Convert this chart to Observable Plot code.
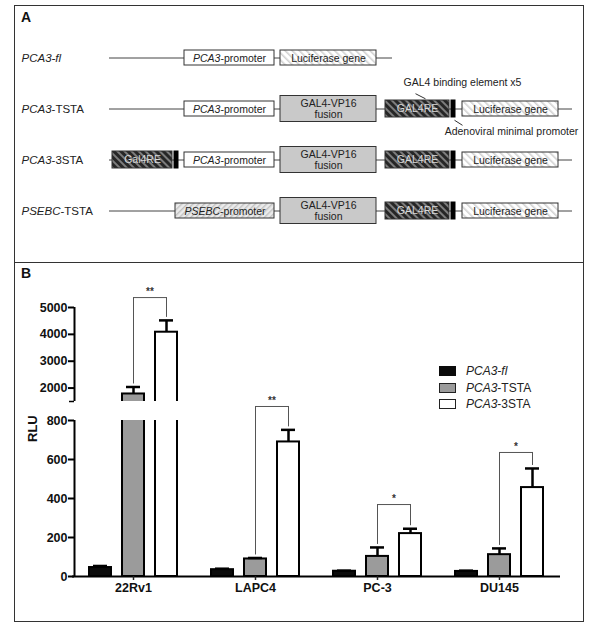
<!DOCTYPE html>
<html><head><meta charset="utf-8">
<script src="https://cdn.jsdelivr.net/npm/d3@7"></script>
<script src="https://cdn.jsdelivr.net/npm/@observablehq/plot@0.6"></script>
<style>
html,body{margin:0;padding:0;background:#fff;}
#fig{position:relative;width:600px;height:624px;font-family:"Liberation Sans",Arial,sans-serif;color:#222;overflow:hidden;}
#fig > svg{position:absolute;left:0;}
.frame{position:absolute;box-sizing:border-box;border:1.5px solid #333;}
.letter{position:absolute;font-weight:bold;font-size:14px;line-height:14px;color:#111;}
#legend{position:absolute;left:439px;top:363px;font-size:12px;color:#222;}
.lg{height:16.6px;display:flex;align-items:center;}
.sw{width:17px;height:10px;box-sizing:border-box;margin-right:10px;}
</style></head>
<body>
<div id="fig">
<svg width="0" height="0" style="position:absolute;left:0;top:0"><defs>
  <pattern id="hatchLuc" patternUnits="userSpaceOnUse" width="5" height="5" patternTransform="rotate(-45)">
    <rect width="5" height="5" fill="#ffffff"/><rect width="1.6" height="5" fill="#d2d2d2"/>
  </pattern>
  <pattern id="hatchRE" patternUnits="userSpaceOnUse" width="5" height="5" patternTransform="rotate(-45)">
    <rect width="5" height="5" fill="#262626"/><rect width="2" height="5" fill="#7d7d7d"/>
  </pattern>
  <pattern id="hatchPSE" patternUnits="userSpaceOnUse" width="4" height="4" patternTransform="rotate(45)">
    <rect width="4" height="4" fill="#ebebeb"/><rect width="1.4" height="4" fill="#c2c2c2"/>
  </pattern>
</defs></svg>
<div class="frame" style="left:14px;top:5px;width:570px;height:617px;"></div>
<div class="frame" style="left:14px;top:262px;width:570px;height:0;border-width:1.5px 0 0 0;"></div>
<div class="letter" style="left:21px;top:10px;">A</div>
<div class="letter" style="left:21px;top:266px;">B</div>
<div id="legend"></div>
</div>
<script>
// ---------------- Panel A: construct schematic ----------------
const constructs = ["PCA3-fl", "PCA3-TSTA", "PCA3-3STA", "PSEBC-TSTA"];
const backboneStart = [109, 109, 109, 109];
const backboneEnd = [392, 572, 572, 572];

const elemRow   = [0, 0,   1, 1, 1, 1, 1,   2, 2, 2, 2, 2, 2, 2,   3, 3, 3, 3, 3];
const elemType  = ["promoter", "luciferase",
                   "promoter", "gal4vp16", "gal4re", "minp", "luciferase",
                   "gal4re", "minp", "promoter", "gal4vp16", "gal4re", "minp", "luciferase",
                   "psebc", "gal4vp16", "gal4re", "minp", "luciferase"];
const elemStart = [184, 280,   184, 280, 385, 451, 462,   112, 174, 184, 280, 385, 451, 462,   175, 280, 385, 451, 462];
const elemEnd   = [274, 376,   274, 376, 449, 455, 558,   172, 178, 274, 376, 449, 455, 558,   274, 376, 449, 455, 558];
const elemLabel = ["PCA3-promoter", "Luciferase gene",
                   "PCA3-promoter", "GAL4-VP16\nfusion", "GAL4RE", "", "Luciferase gene",
                   "Gal4RE", "", "PCA3-promoter", "GAL4-VP16\nfusion", "GAL4RE", "", "Luciferase gene",
                   "PSEBC-promoter", "GAL4-VP16\nfusion", "GAL4RE", "", "Luciferase gene"];

const annoText = ["GAL4 binding element x5", "Adenoviral minimal promoter"];
const annoX = [462, 511];
const annoY = [0.48, 1.44];
const leaderX1 = [415, 454];
const leaderY1 = [0.70, 1.22];
const leaderX2 = [425, 462];
const leaderY2 = [0.80, 1.32];

const italicTerms = ["PCA3-fl", "PCA3", "PSEBC"];

// ---------------- Panel B: luciferase assay ----------------
const cells = ["22Rv1", "LAPC4", "PC-3", "DU145"];
const series = ["PCA3-fl", "PCA3-TSTA", "PCA3-3STA"];
const flMean   = [46, 35, 27, 26];
const flErr    = [8, 5, 3, 4];
const tstaMean = [1780, 90, 103, 112];
const tstaErr  = [260, 5, 46, 32];
const sstaMean = [4080, 690, 220, 456];
const sstaErr  = [440, 62, 25, 98];
const sigLevel = [5370, 1316, 369, 636];
const sigLabel = ["**", "**", "*", "*"];
const lowerTicks = [0, 200, 400, 600, 800];
const upperTicks = [2000, 3000, 4000, 5000];
const yBreak = [800, 1500];
const yMax = 5000;
const barColors = ["#0b0b0b", "#9b9b9b", "#ffffff"];

// ---------------- build tables ----------------
const backbones = constructs.map((c, i) => ({row: i, start: backboneStart[i], end: backboneEnd[i]}));
const elements = elemRow.map((r, i) => ({row: r, type: elemType[i], start: elemStart[i], end: elemEnd[i], label: elemLabel[i]}));
const annos = annoText.map((t, i) => ({text: t, x: annoX[i], y: annoY[i]}));
const leaders = leaderX1.map((x, i) => ({x1: x, y1: leaderY1[i], x2: leaderX2[i], y2: leaderY2[i]}));

const means = [flMean, tstaMean, sstaMean];
const errs = [flErr, tstaErr, sstaErr];
const bars = [];
cells.forEach((c, i) => series.forEach((s, j) => bars.push({cell: c, series: s, value: means[j][i], err: errs[j][i]})));
const brackets = cells.map((c, i) => ({cell: c, level: sigLevel[i], label: sigLabel[i]}));
const legs = [];
cells.forEach((c, i) => {
  legs.push({cell: c, series: series[1], level: sigLevel[i], cap: tstaMean[i] + tstaErr[i]});
  legs.push({cell: c, series: series[2], level: sigLevel[i], cap: sstaMean[i] + sstaErr[i]});
});
const axisSegments = [{lo: 0, hi: yBreak[0]}, {lo: yBreak[1], hi: yMax}];
const yTicks = [...lowerTicks, ...upperTicks];

// broken-axis transform: lower segment, break gap, upper segment (lengths in px)
const segLower = 156, segGap = 19, segUpper = 94;
const brokenY = v => v <= yBreak[0] ? v / yBreak[0] * segLower
  : v <= yBreak[1] ? segLower + (v - yBreak[0]) / (yBreak[1] - yBreak[0]) * segGap
  : segLower + segGap + (v - yBreak[1]) / (yMax - yBreak[1]) * segUpper;
const yScale = {transform: brokenY, domain: [0, segLower + segGap + segUpper], range: [313, 44], axis: null};

const font = "font-family:'Liberation Sans',Arial,sans-serif;background:transparent;overflow:visible;";
const byType = t => elements.filter(d => d.type === t);
const box = (t, h, opts) => Plot.rect(byType(t), {x1: "start", x2: "end", y1: "row", y2: "row", insetTop: -h, insetBottom: -h, stroke: "#333", strokeWidth: 1, ...opts});

const panelA = Plot.plot({
  width: 600, height: 263, marginLeft: 21, marginTop: 0, marginRight: 0, marginBottom: 0,
  style: font,
  x: {domain: [0, 600], range: [0, 600], axis: null},
  y: {domain: [0, 3], range: [57.5, 210.5], axis: null},
  marks: [
    Plot.ruleY(backbones, {y: "row", x1: "start", x2: "end", stroke: "#444", strokeWidth: 1}),
    box("promoter", 7.5, {fill: "white"}),
    box("luciferase", 7.5, {fill: "url(#hatchLuc)"}),
    box("psebc", 7.5, {fill: "url(#hatchPSE)"}),
    box("gal4vp16", 13, {fill: "#c9c9c9"}),
    box("gal4re", 8.5, {fill: "url(#hatchRE)"}),
    box("minp", 8.5, {fill: "#000", stroke: "#000"}),
    Plot.text(elements.filter(d => d.label && d.type !== "gal4re"), {x: d => (d.start + d.end) / 2, y: "row", text: "label", fontSize: 10.5, lineHeight: 1.05, fill: "#222"}),
    Plot.text(byType("gal4re"), {x: d => (d.start + d.end) / 2, y: "row", text: "label", fontSize: 10.5, fill: "#d8d8d8"}),
    Plot.text(constructs, {y: (d, i) => i, text: d => d, frameAnchor: "left", textAnchor: "start", fontSize: 11.5, fill: "#222"}),
    Plot.text(annos, {x: "x", y: "y", text: "text", fontSize: 10.5, fill: "#222"}),
    Plot.link(leaders, {x1: "x1", y1: "y1", x2: "x2", y2: "y2", stroke: "#333", strokeWidth: 1})
  ]
});

const panelB = Plot.plot({
  width: 600, height: 361, marginLeft: 72, marginRight: 40, marginTop: 20, marginBottom: 48,
  style: font,
  fx: {domain: cells, range: [72, 560], padding: 0, axis: null, label: null},
  x: {type: "band", domain: series, paddingInner: 0.33, paddingOuter: 0.485, axis: null},
  y: yScale,
  color: {domain: series, range: barColors},
  marks: [
    Plot.barY(bars, {fx: "cell", x: "series", y1: () => 0, y2: "value", fill: "series", stroke: "#000", strokeWidth: 2}),
    Plot.barY(bars.filter(d => d.value > yBreak[0]), {fx: "cell", x: "series", y1: () => yBreak[0], y2: () => yBreak[1], fill: "white", insetLeft: -3, insetRight: -3}),
    Plot.ruleX(bars, {fx: "cell", x: "series", y1: "value", y2: d => d.value + d.err, stroke: "#000", strokeWidth: 2.5}),
    Plot.tickY(bars, {fx: "cell", x: "series", y: d => d.value + d.err, stroke: "#000", strokeWidth: 2.5, insetLeft: 4, insetRight: 4}),
    Plot.ruleX(legs, {fx: "cell", x: "series", y1: "level", y2: "cap", insetBottom: 3, stroke: "#555", strokeWidth: 1}),
    Plot.link(brackets, {fx: "cell", x1: () => series[1], x2: () => series[2], y1: "level", y2: "level", stroke: "#555", strokeWidth: 1}),
    Plot.text(brackets, {fx: "cell", x: () => series[1], y: "level", text: "label", dx: 16.5, dy: -6, fontSize: 10, fontWeight: "bold", fill: "#333"}),
    Plot.ruleY([0], {stroke: "#000", strokeWidth: 2}),
    Plot.axisFx({anchor: "bottom", tickSize: 4, tickPadding: 3, fontSize: 12.5, fontWeight: "bold", strokeWidth: 1.5, label: null, fill: "#111"})
  ]
});

// y axis overlay: frame is the 6px tick zone just left of the axis line
const axisB = Plot.plot({
  width: 600, height: 361, marginLeft: 68, marginRight: 526, marginTop: 44, marginBottom: 48,
  style: font,
  x: {domain: [0, 1], axis: null},
  y: yScale,
  marks: [
    Plot.ruleX(axisSegments, {x: 1, y1: "lo", y2: "hi", stroke: "#000", strokeWidth: 2}),
    Plot.ruleY(yTicks, {y: d => d, stroke: "#000", strokeWidth: 2}),
    Plot.ruleY([yBreak[1]], {y: d => d, stroke: "#000", strokeWidth: 1.5, insetLeft: 1}),
    Plot.text(yTicks, {y: d => d, text: d => `${d}`, frameAnchor: "left", textAnchor: "end", dx: -1, fontSize: 12.5, fontWeight: "bold", fill: "#111"}),
    Plot.text(["RLU"], {frameAnchor: "left", dx: -36, rotate: -90, text: d => d, fontSize: 13, fontWeight: "bold", fill: "#111"})
  ]
});

function italicize(root) {
  const re = new RegExp("(" + italicTerms.join("|") + ")");
  root.querySelectorAll("text, tspan").forEach(el => {
    if (el.children.length) return;
    const parts = el.textContent.split(re);
    if (parts.length < 2) return;
    el.textContent = "";
    parts.forEach((p, i) => {
      if (!p) return;
      const t = document.createElementNS("http://www.w3.org/2000/svg", "tspan");
      if (i % 2) t.setAttribute("font-style", "italic");
      t.textContent = p;
      el.appendChild(t);
    });
  });
}

const fig = document.getElementById("fig");
panelA.style.top = "0px";
panelB.style.top = "263px";
axisB.style.top = "263px";
[panelA, panelB, axisB].forEach(svg => { italicize(svg); fig.appendChild(svg); });

// legend
const legend = document.getElementById("legend");
series.forEach((s, j) => {
  const row = document.createElement("div");
  row.className = "lg";
  const sw = document.createElement("div");
  sw.className = "sw";
  sw.style.background = barColors[j];
  sw.style.border = j === 0 ? "none" : "1px solid #222";
  const lab = document.createElement("span");
  const parts = s.split(new RegExp("(" + italicTerms.join("|") + ")"));
  parts.forEach((p, i) => {
    if (!p) return;
    const el = document.createElement(i % 2 ? "i" : "span");
    el.textContent = p;
    lab.appendChild(el);
  });
  row.appendChild(sw);
  row.appendChild(lab);
  legend.appendChild(row);
});
</script>
</body></html>
